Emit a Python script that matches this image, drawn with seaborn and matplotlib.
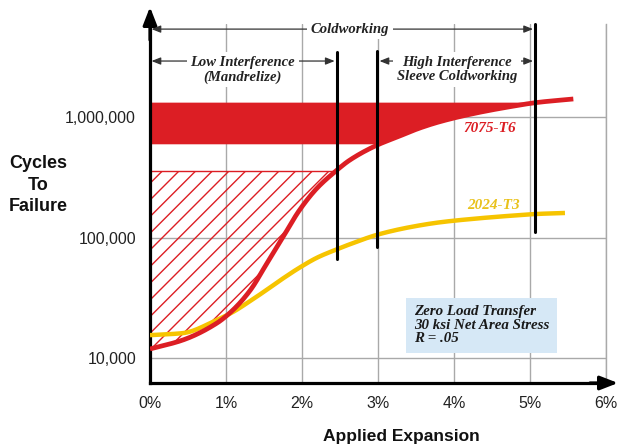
import numpy as np
import pandas as pd
import matplotlib
matplotlib.use("Agg")
import matplotlib.pyplot as plt
import seaborn as sns

# Fatigue life vs. applied expansion (cold-working of fastener holes)
expansion_7075 = [0.00, 0.43, 0.88, 1.09, 1.32, 1.54, 1.75, 1.97, 2.20, 2.43,
                  2.63, 2.99, 3.25, 3.55, 3.82, 4.25, 4.70, 5.09, 5.57]
cycles_7075 = [11900, 14100, 19500, 25000, 36600, 61400, 101000, 170000, 258000,
               350000, 440000, 586000, 682000, 811000, 918000, 1067000, 1208000,
               1321000, 1413000]

expansion_2024 = [0.00, 0.43, 0.88, 1.09, 1.32, 1.54, 1.75, 1.97, 2.20, 2.46,
                  2.63, 3.00, 3.42, 3.82, 4.25, 4.70, 5.09, 5.46]
cycles_2024 = [15500, 16100, 20700, 24100, 29800, 37000, 45800, 56400, 68200,
               80000, 88000, 106000, 122000, 134000, 143000, 151000, 157000,
               160000]

# Scatter band of 7075-T6 lives and the unexpanded-hole reference level
band_low, band_high = 600_000, 1_330_000
hatch_top = 355_000

# Process ranges (% expansion)
low_interference_end = 2.46
high_interference_start = 2.99
coldworking_end = 5.07

y_ticks = [10_000, 100_000, 1_000_000]
y_tick_labels = ["10,000", "100,000", "1,000,000"]
x_ticks = [0, 1, 2, 3, 4, 5, 6]
x_tick_labels = ["0%", "1%", "2%", "3%", "4%", "5%", "6%"]

note_lines = ["Zero Load Transfer", "30 ksi Net Area Stress", "R = .05"]

RED = "#dc1e24"
YELLOW = "#f6c400"
GRID = "#a9a9a9"
SERIF = "Liberation Serif"
SANS = "Liberation Sans"


def smooth_log_curve(ex, cy, xs):
    """Monotone cubic (PCHIP) path through the points, in log10 space."""
    x = np.asarray(ex, float)
    y = np.log10(np.asarray(cy, float))
    h = np.diff(x)
    d = np.diff(y) / h
    m = np.zeros_like(y)
    m[0], m[-1] = d[0], d[-1]
    for k in range(1, len(x) - 1):
        if d[k - 1] * d[k] > 0:
            w1 = 2 * h[k] + h[k - 1]
            w2 = h[k] + 2 * h[k - 1]
            m[k] = (w1 + w2) / (w1 / d[k - 1] + w2 / d[k])
    xs = np.asarray(xs, float)
    idx = np.clip(np.searchsorted(x, xs) - 1, 0, len(x) - 2)
    t = (xs - x[idx]) / h[idx]
    h00 = 2 * t**3 - 3 * t**2 + 1
    h10 = t**3 - 2 * t**2 + t
    h01 = -2 * t**3 + 3 * t**2
    h11 = t**3 - t**2
    ys = (h00 * y[idx] + h10 * h[idx] * m[idx] + h01 * y[idx + 1]
          + h11 * h[idx] * m[idx + 1])
    return 10 ** ys


sns.set_theme(style="white")
plt.rcParams["font.family"] = [SANS, "DejaVu Sans"]
plt.rcParams["hatch.linewidth"] = 1.0

W, H = 618, 448
fig = plt.figure(figsize=(W / 100, H / 100), dpi=100)
ax = fig.add_axes([150 / W, 1 - 383 / H, (606 - 150) / W, (383 - 24) / H])
ax.set_yscale("log")
ax.set_xlim(0, 6)
ax.set_ylim(6210, 5.92e6)

# grid
for xv in x_ticks[1:]:
    ax.axvline(xv, color=GRID, lw=1.0, zorder=0.5)
for yv in y_ticks:
    ax.axhline(yv, color=GRID, lw=1.0, zorder=0.5)

xs7075 = np.linspace(expansion_7075[0], expansion_7075[-1], 400)
xs2024 = np.linspace(expansion_2024[0], expansion_2024[-1], 400)
df7075 = pd.DataFrame({"expansion": xs7075,
                       "cycles": smooth_log_curve(expansion_7075, cycles_7075, xs7075)})
df2024 = pd.DataFrame({"expansion": xs2024,
                       "cycles": smooth_log_curve(expansion_2024, cycles_2024, xs2024)})

# solid scatter band, closed off by the rising 7075-T6 curve
lower = np.maximum(df7075["cycles"].to_numpy(), band_low)
ax.fill_between(xs7075, lower, band_high, where=lower < band_high, interpolate=True,
                color=RED, lw=0, zorder=2)

# hatched gain region below the reference life
c7075 = df7075["cycles"].to_numpy()
x_cross = np.interp(np.log10(hatch_top), np.log10(c7075), xs7075)
mask = xs7075 <= x_cross
xh = np.append(xs7075[mask], x_cross)
ch = np.append(c7075[mask], hatch_top)
ax.fill_between(xh, ch, hatch_top, facecolor="none", edgecolor=RED, hatch="//",
                lw=0, zorder=1.5)
ax.plot([0, x_cross], [hatch_top, hatch_top], color=RED, lw=1.0, zorder=2)

# fatigue curves
sns.lineplot(data=df2024, x="expansion", y="cycles", color=YELLOW, lw=3.2,
             ax=ax, zorder=3, solid_capstyle="butt")
sns.lineplot(data=df7075, x="expansion", y="cycles", color=RED, lw=3.4,
             ax=ax, zorder=4, solid_capstyle="butt")

# process boundary markers
ax.plot([low_interference_end] * 2, [66400, 3.46e6], color="black", lw=2.2, zorder=5)
ax.plot([high_interference_start] * 2, [83400, 3.53e6], color="black", lw=2.2, zorder=5)
ax.plot([coldworking_end] * 2, [111000, 5.92e6], color="black", lw=2.2, zorder=5,
        clip_on=False)

# range arrows and labels
arrow_kw = dict(arrowstyle="<|-|>,head_length=0.45,head_width=0.18",
                color="#333333", lw=0.9, shrinkA=0, shrinkB=0)
y_cold = 10 ** 6.730
y_range = 10 ** 6.465
ax.annotate("", xy=(0.02, y_cold), xytext=(coldworking_end - 0.03, y_cold),
            arrowprops=arrow_kw, zorder=6)
ax.annotate("", xy=(0.02, y_range), xytext=(low_interference_end - 0.03, y_range),
            arrowprops=arrow_kw, zorder=6)
ax.annotate("", xy=(high_interference_start + 0.03, y_range),
            xytext=(coldworking_end - 0.03, y_range), arrowprops=arrow_kw, zorder=6)

label_kw = dict(family=SERIF, weight="bold", style="italic", fontsize=10.5,
                color="#222222", ha="center", va="center", zorder=7)
box = dict(boxstyle="square,pad=0.25", fc="white", ec="none")
ax.text(2.63, y_cold, "Coldworking", bbox=box, **label_kw)
ax.text(1.22, 10 ** 6.394, "Low Interference\n(Mandrelize)", linespacing=1.15,
        bbox=box, **label_kw)
ax.text(4.04, 10 ** 6.394, "High Interference\nSleeve Coldworking", linespacing=1.15,
        bbox=box, **label_kw)

ax.text(4.47, 811000, "7075-T6", family=SERIF, weight="bold", style="italic",
        fontsize=11, color=RED, ha="center", va="center", zorder=7)
ax.text(4.52, 186000, "2024-T3", family=SERIF, weight="bold", style="italic",
        fontsize=11, color="#e9c21c", ha="center", va="center", zorder=7)

ax.text(3.47, 10 ** 4.274, "\n".join(note_lines), family=SERIF, weight="bold",
        style="italic", fontsize=10.8, color="#1a1a1a", ha="left", va="center",
        linespacing=1.05, zorder=7,
        bbox=dict(boxstyle="square,pad=0.5", fc="#d6e8f6", ec="none"))

# axes and ticks
ax.set_xticks(x_ticks)
ax.set_xticklabels(x_tick_labels)
ax.set_yticks(y_ticks)
ax.set_yticklabels(y_tick_labels)
ax.minorticks_off()
ax.tick_params(axis="both", length=0, labelsize=11.5, labelcolor="#222222")
ax.tick_params(axis="y", pad=10)
ax.tick_params(axis="x", pad=9)
ax.set_xlabel("")
ax.set_ylabel("")

for side in ["left", "bottom"]:
    ax.spines[side].set_color("black")
    ax.spines[side].set_linewidth(2.3)
ax.spines["top"].set_visible(False)
ax.spines["right"].set_color(GRID)
ax.spines["right"].set_linewidth(1.0)

# arrowheads on the axes
axis_arrow = dict(arrowstyle="-|>,head_length=0.9,head_width=0.35", color="black",
                  lw=2.3, shrinkA=0, shrinkB=0)
ax.annotate("", xy=(150, H - 7), xytext=(150, H - 40), xycoords="figure pixels",
            textcoords="figure pixels", arrowprops=axis_arrow)
ax.annotate("", xy=(618, H - 383), xytext=(590, H - 383), xycoords="figure pixels",
            textcoords="figure pixels", arrowprops=axis_arrow)

fig.text(38 / W, 1 - 185 / H, "Cycles\nTo\nFailure", ha="center", va="center",
         fontsize=13, weight="bold", color="#111111", linespacing=1.35)
fig.text(401 / W, 1 - 436 / H, "Applied Expansion", ha="center", va="center",
         fontsize=12.5, weight="bold", color="#111111")

fig.savefig("out.png", dpi=100, facecolor="white")
